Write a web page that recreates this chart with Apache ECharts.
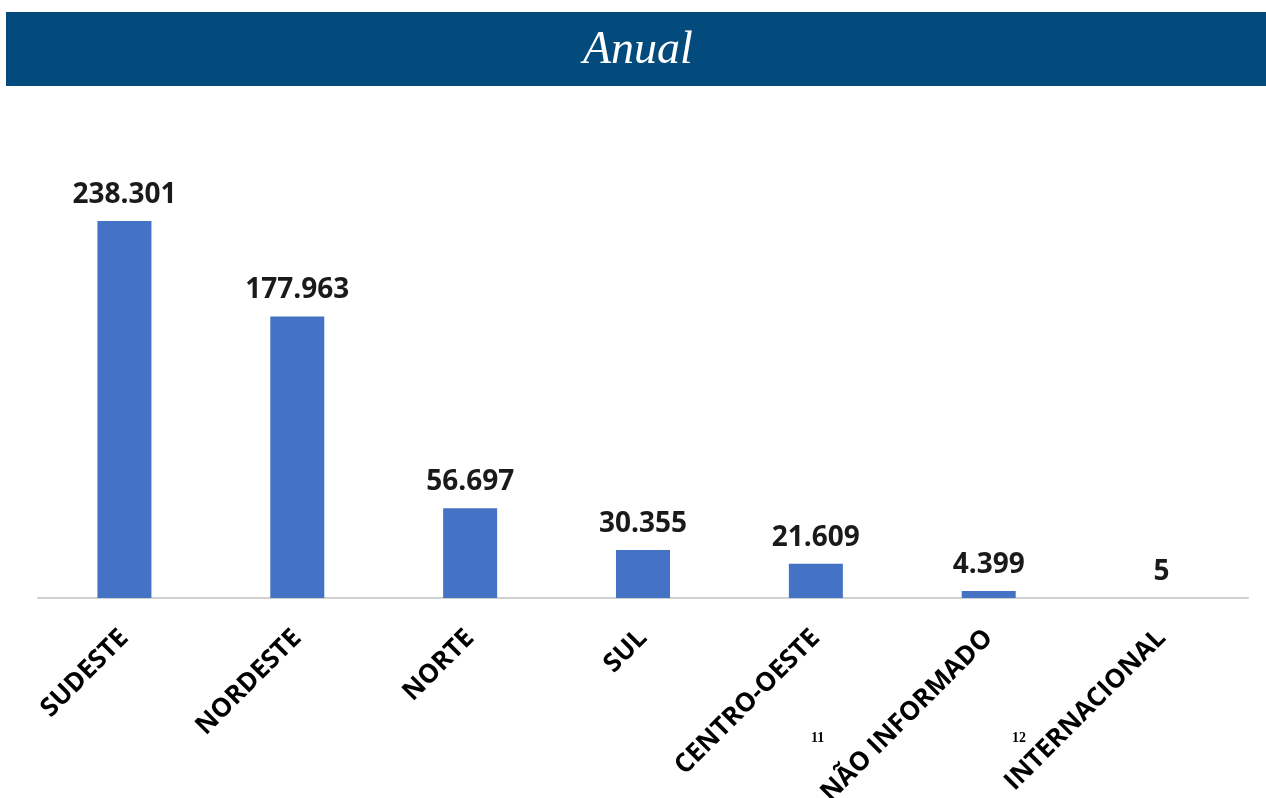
<!DOCTYPE html>
<html>
<head>
<meta charset="utf-8">
<script src="https://cdn.jsdelivr.net/npm/echarts@6/dist/echarts.min.js"></script>
<style>
html,body{margin:0;padding:0;background:#fff;}
#chart{width:1266px;height:798px;}
</style>
</head>
<body>
<div id="chart"></div>
<script>
var categories = ['SUDESTE', 'NORDESTE', 'NORTE', 'SUL', 'CENTRO-OESTE', 'NÃO INFORMADO', 'INTERNACIONAL'];
var values = [238301, 177963, 56697, 30355, 21609, 4399, 5];
var titleText = 'Anual';
var footnotes = ['11', '12'];

function fmt(v) {
  return String(v).replace(/\B(?=(\d{3})+(?!\d))/g, '.');
}

var chart = echarts.init(document.getElementById('chart'));
chart.setOption({
  animation: false,
  backgroundColor: '#ffffff',
  grid: { left: 38, right: 18, top: 202.5, bottom: 200, containLabel: false, outerBoundsMode: 'none' },
  xAxis: {
    type: 'category',
    data: categories,
    axisLine: { lineStyle: { color: '#d0d0d0', width: 2 } },
    axisTick: { show: false },
    axisLabel: {
      rotate: 45,
      interval: 0,
      margin: 36,
      color: '#000',
      fontFamily: 'Open Sans',
      fontWeight: 'bold',
      fontSize: 26
    }
  },
  yAxis: {
    type: 'value',
    min: 0,
    max: 250000,
    show: false,
    splitLine: { show: false }
  },
  series: [{
    type: 'bar',
    data: values,
    barWidth: 54,
    itemStyle: { color: '#4472c4' },
    label: {
      show: true,
      position: 'top',
      distance: 12,
      color: '#1a1a1a',
      fontFamily: 'Open Sans',
      fontWeight: 'bold',
      fontSize: 28,
      formatter: function (p) { return fmt(p.value); }
    }
  }],
  graphic: [
    { type: 'rect', left: 6, top: 12, shape: { width: 1260, height: 74 }, style: { fill: '#034b7d' } },
    { type: 'text', left: 583, top: 28, style: { text: titleText, fill: '#ffffff', font: 'italic 46px "Liberation Serif", serif' } },
    { type: 'text', left: 811, top: 731, style: { text: footnotes[0], fill: '#000', font: 'bold 14px "Liberation Serif", serif' } },
    { type: 'text', left: 1012, top: 731, style: { text: footnotes[1], fill: '#000', font: 'bold 14px "Liberation Serif", serif' } }
  ]
});
</script>
</body>
</html>
